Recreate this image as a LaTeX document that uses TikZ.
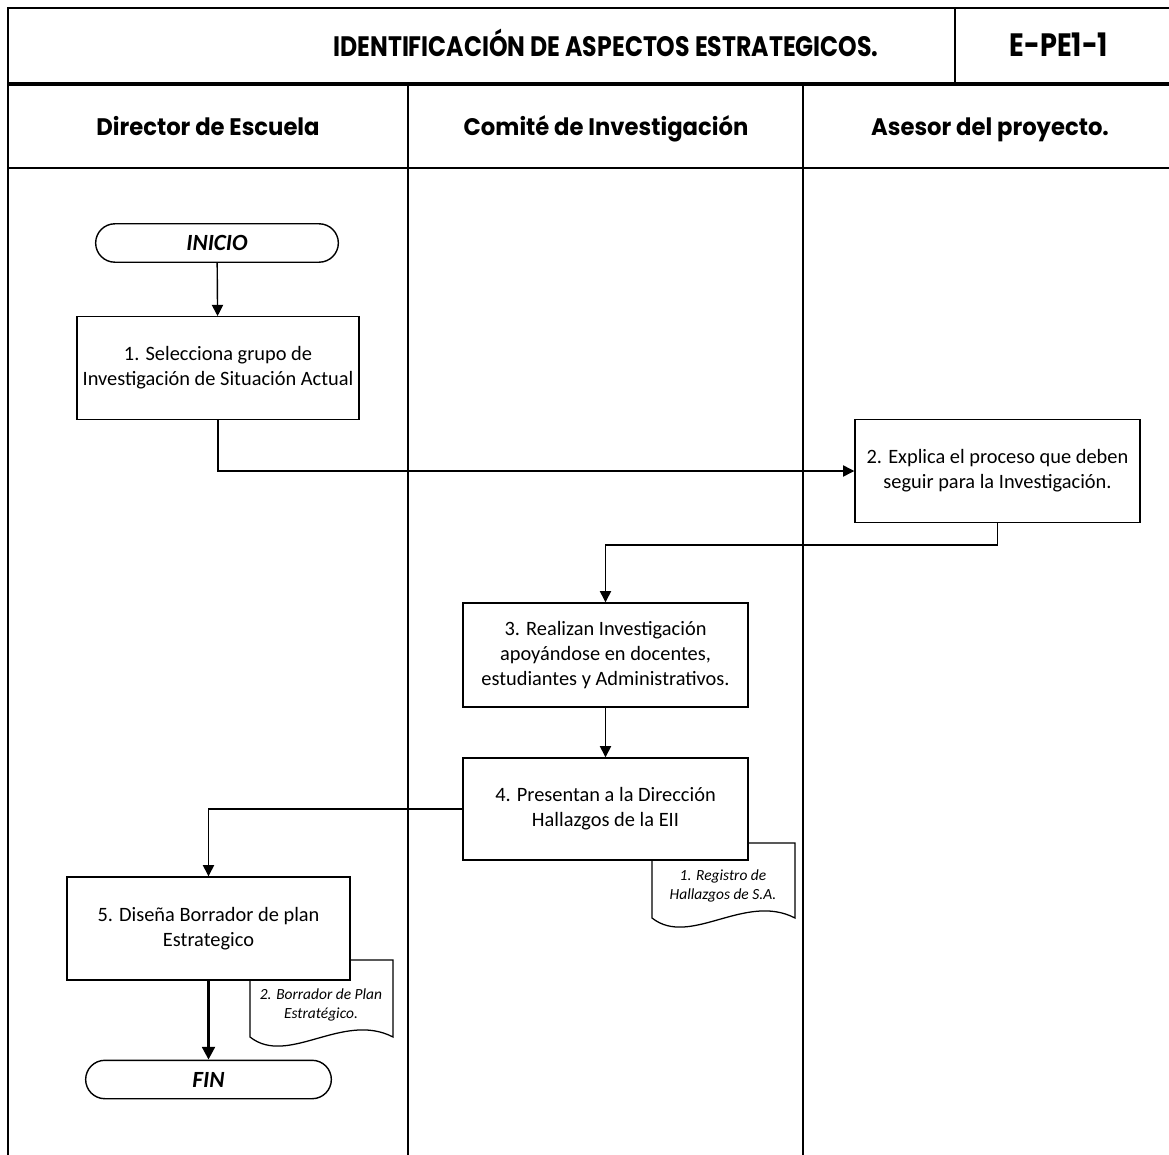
\documentclass[tikz,border=0pt]{standalone}
\usepackage{fontspec}
\setmainfont{Carlito}
\newfontfamily\hdrfont[FakeStretch=0.84]{Poppins}
\newfontfamily\lanefont[FakeStretch=0.95]{Poppins}
\usetikzlibrary{arrows.meta,shapes.misc}

\begin{document}
\begin{tikzpicture}[x=0.025cm,y=-0.025cm,
  frame/.style={line width=2pt},
  stepbox/.style={draw, line width=1pt, fill=white, align=center, inner sep=2pt,
    font=\fontsize{14.5}{17.8}\selectfont, minimum width=7.1cm, minimum height=2.56cm},
  term/.style={draw, rounded rectangle, line width=1pt, fill=white,
    font=\fontsize{16.5}{20}\selectfont\bfseries\itshape, minimum width=6.3cm, minimum height=0.96cm},
  flow/.style={line width=1pt, -{Triangle[length=8pt,width=8pt]}},
  heavyflow/.style={line width=2pt, -{Triangle[length=9pt,width=9pt]}},
  docshape/.style={draw, line width=0.9pt, fill=white},
  doctext/.style={font=\fontsize{11}{13.5}\selectfont\itshape, align=center},
  hdr/.style={anchor=base, font=\hdrfont\bfseries\fontsize{20}{24}\selectfont},
  lane/.style={anchor=base, font=\lanefont\bfseries\fontsize{17}{20}\selectfont}]

\useasboundingbox (0,0) rectangle (1169,1155);

% --- table frame ---
\draw[frame] (1169,8) -- (8,8) -- (8,1155);
\draw[frame] (955,8) -- (955,84);
\draw[line width=3pt] (8,84) -- (1169,84);
\draw[frame] (8,168) -- (1169,168);
\draw[frame] (408,84) -- (408,1155);
\draw[frame] (803,84) -- (803,1155);

% --- title row ---
\node[hdr] (title) at (606,57) {IDENTIFICACIÓN DE ASPECTOS ESTRATEGICOS.};
\node[hdr, font=\hdrfont\bfseries\fontsize{23}{26}\selectfont] (code) at (1059,57) {E-PE1-1};

% --- lane headers ---
\node[lane] (l1) at (208,136) {Director de Escuela};
\node[lane] (l2) at (606,136) {Comité de Investigación};
\node[lane] (l3) at (990,136) {Asesor del proyecto.};

% --- documents (drawn first so boxes overlap them) ---
\draw[docshape] (652,843) -- (795,843) -- (795,918)
  .. controls (745,892) and (690,948) .. (652,918) -- cycle;
\node[doctext] (d1) at (723,886) {1. Registro de\\Hallazgos de S.A.};

\draw[docshape] (250,960) -- (393,960) -- (393,1037)
  .. controls (343,1011) and (288,1067) .. (250,1037) -- cycle;
\node[doctext] (d2) at (321,1005) {2. Borrador de Plan\\Estratégico.};

% --- flow nodes ---
\node[term] (start) at (217,243) {INICIO};
\node[stepbox, minimum width=7.05cm] (b1) at (218,368)
  {1. Selecciona grupo de\\Investigación de Situación Actual};
\node[stepbox, minimum width=7.125cm] (b2) at (997.5,471)
  {2. Explica el proceso que deben\\seguir para la Investigación.};
\node[stepbox, minimum width=7.125cm, minimum height=2.6cm] (b3) at (605.5,655)
  {3. Realizan Investigación\\apoyándose en docentes,\\estudiantes y Administrativos.};
\node[stepbox, minimum width=7.125cm, minimum height=2.55cm] (b4) at (605.5,809)
  {4. Presentan a la Dirección\\Hallazgos de la EII};
\node[stepbox, minimum width=7.075cm, minimum height=2.575cm] (b5) at (208.5,928.5)
  {5. Diseña Borrador de plan\\Estrategico};
\node[term, minimum width=6.375cm] (fin) at (208.5,1079.5) {FIN};

% --- connectors ---
\coordinate (j1) at (605.5,545);
\draw[flow] (start) -- (b1);
\draw[flow] (b1.south) |- (b2.west);
\draw[flow] (b2.south) |- (j1) -- (b3.north);
\draw[flow] (b3) -- (b4);
\draw[flow] (b4.west) -| (b5.north);
\draw[heavyflow] (b5) -- (fin);

\end{tikzpicture}
\end{document}
